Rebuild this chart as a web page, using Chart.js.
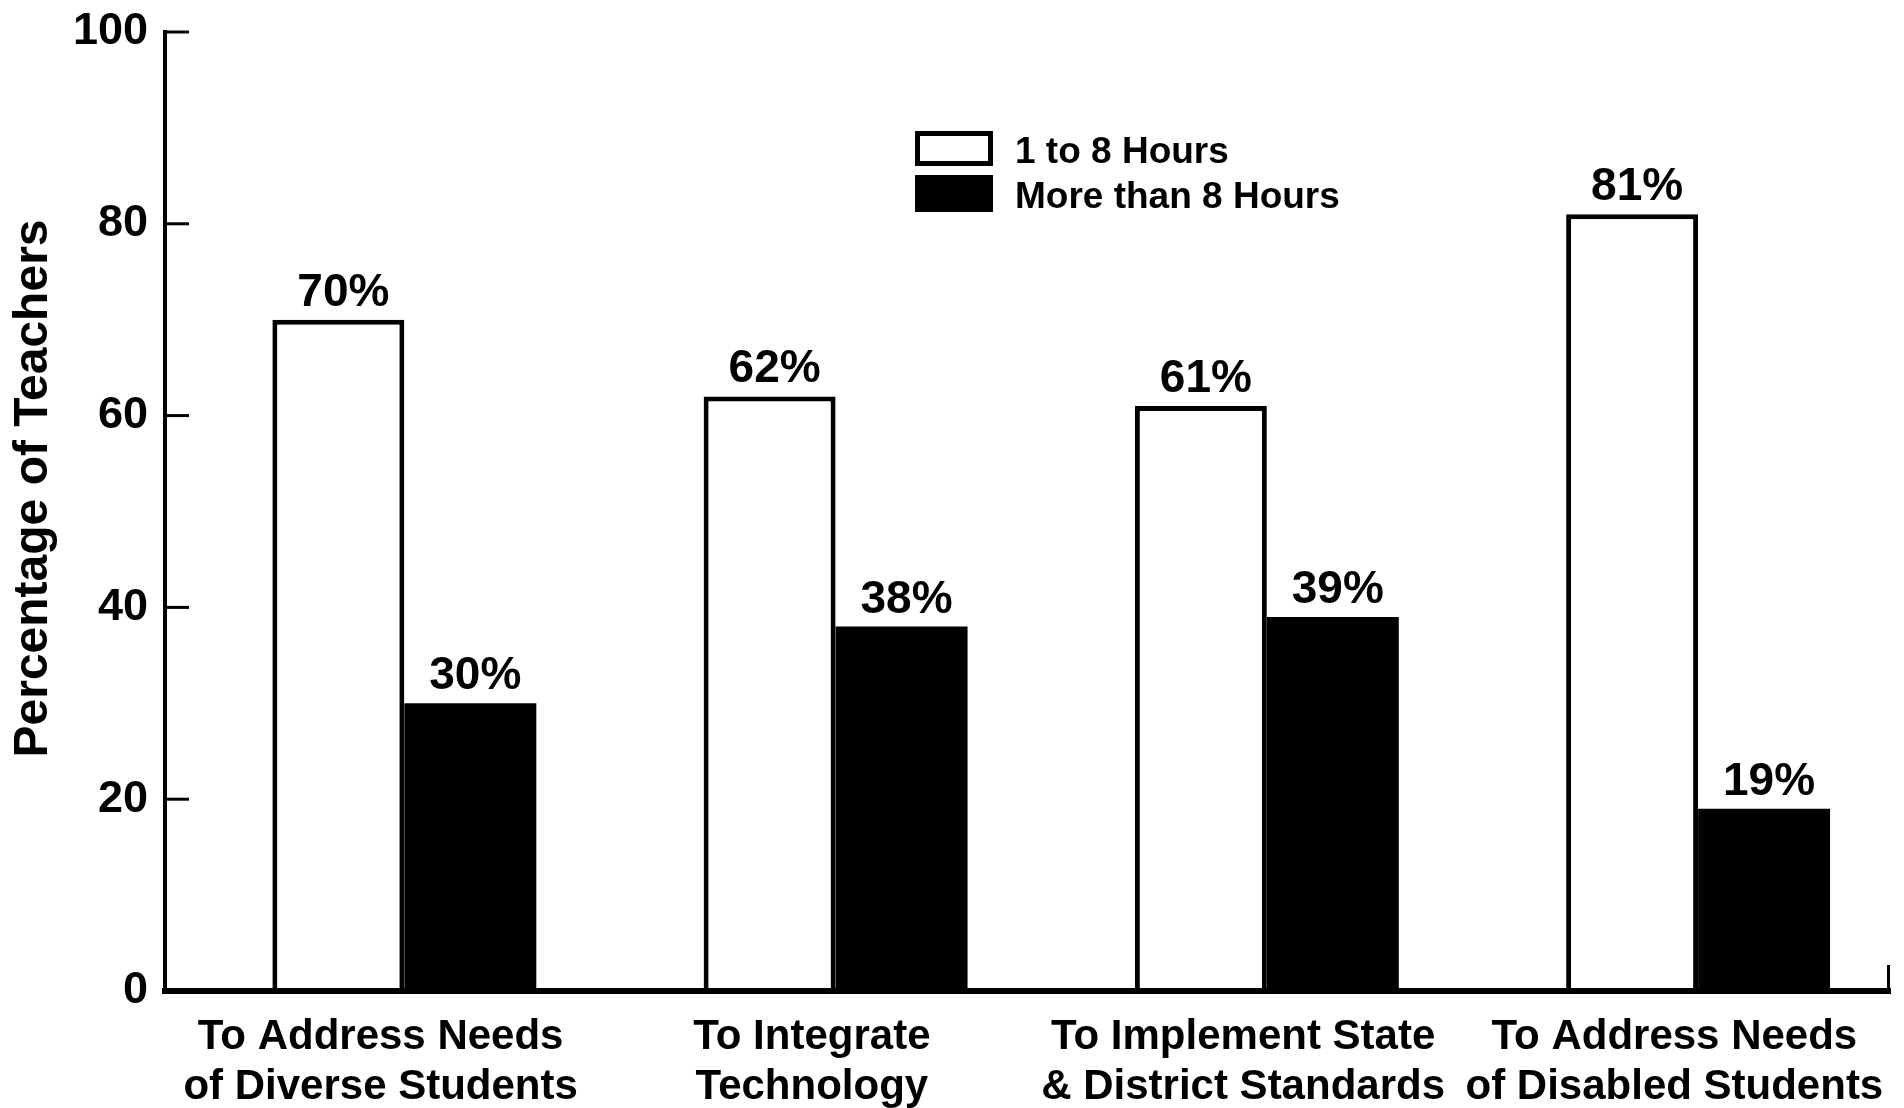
<!DOCTYPE html>
<html>
<head>
<meta charset="utf-8">
<script src="https://cdn.jsdelivr.net/npm/chart.js@4"></script>
<style>
  html, body { margin: 0; padding: 0; background: #fff; }
  #wrap { width: 1904px; height: 1108px; }
</style>
</head>
<body>
<div id="wrap"><canvas id="trainingChart"></canvas></div>
<script>
const categories = [
  ['To Address Needs', 'of Diverse Students'],
  ['To Integrate', 'Technology'],
  ['To Implement State', '& District Standards'],
  ['To Address Needs', 'of Disabled Students']
];
const seriesNames = ['1 to 8 Hours', 'More than 8 Hours'];
const oneToEight = [70, 62, 61, 81];
const moreThanEight = [30, 38, 39, 19];
const yTicks = [0, 20, 40, 60, 80, 100];
const yTitle = 'Percentage of Teachers';

const FONT = '"Liberation Sans", Arial, Helvetica, sans-serif';
// bar pairs sit slightly right of the category label centres
const groupShift = 0.055;

const toPoints = arr => arr.map((v, i) => ({ x: i, y: v }));

const decorations = {
  id: 'decorations',
  afterDraw(chart) {
    const { ctx, chartArea, scales } = chart;
    ctx.save();

    // short tick marks pointing into the plot
    ctx.strokeStyle = '#000';
    ctx.lineWidth = 3;
    yTicks.forEach(t => {
      if (t === 0) return;
      const y = scales.y.getPixelForValue(t);
      ctx.beginPath();
      ctx.moveTo(chartArea.left, y);
      ctx.lineTo(chartArea.left + 24, y);
      ctx.stroke();
    });
    // end tick on the category axis
    ctx.beginPath();
    ctx.moveTo(chartArea.right - 1.5, chartArea.bottom);
    ctx.lineTo(chartArea.right - 1.5, chartArea.bottom - 26);
    ctx.stroke();

    // axis title, set a little above the middle of the value axis
    ctx.fillStyle = '#000';
    ctx.font = 'bold 48px ' + FONT;
    ctx.textAlign = 'center';
    ctx.textBaseline = 'middle';
    ctx.save();
    ctx.translate(scales.y.left + 34, (chartArea.top + chartArea.bottom) / 2 - 23);
    ctx.rotate(-Math.PI / 2);
    ctx.fillText(yTitle, 0, 0);
    ctx.restore();

    // percentage labels over the bars
    ctx.font = 'bold 46px ' + FONT;
    ctx.textBaseline = 'alphabetic';
    chart.data.datasets.forEach((ds, di) => {
      chart.getDatasetMeta(di).data.forEach((bar, i) => {
        ctx.fillText(ds.data[i].y + '%', bar.x + 5, bar.y - 14);
      });
    });

    // legend
    const lx = chartArea.left + 750;
    const ly = chartArea.top + 99;
    ctx.lineWidth = 5;
    ctx.fillStyle = '#fff';
    ctx.fillRect(lx, ly, 78, 35);
    ctx.strokeRect(lx + 2.5, ly + 2.5, 73, 30);
    ctx.fillStyle = '#000';
    ctx.fillRect(lx, ly + 44, 78, 37);
    ctx.font = 'bold 37px ' + FONT;
    ctx.textAlign = 'left';
    ctx.textBaseline = 'middle';
    ctx.fillText(seriesNames[0], lx + 100, ly + 22);
    ctx.fillText(seriesNames[1], lx + 100, ly + 67);

    ctx.restore();
  }
};

new Chart('trainingChart', {
  type: 'bar',
  data: {
    labels: categories,
    datasets: [{
      label: seriesNames[0],
      data: toPoints(oneToEight),
      xAxisID: 'xb',
      backgroundColor: '#fff',
      borderColor: '#000',
      borderWidth: 5
    }, {
      label: seriesNames[1],
      data: toPoints(moreThanEight),
      xAxisID: 'xb',
      backgroundColor: '#000',
      borderWidth: 0
    }]
  },
  options: {
    responsive: true,
    maintainAspectRatio: false,
    animation: false,
    categoryPercentage: 0.612,
    barPercentage: 1,
    layout: { padding: { top: 32, right: 14, bottom: 0, left: 0 } },
    plugins: {
      legend: { display: false },
      tooltip: { enabled: false }
    },
    scales: {
      x: {
        type: 'category',
        offset: true,
        grid: { display: false, drawTicks: false },
        border: { display: true, color: '#000', width: 6, z: 1 },
        ticks: {
          color: '#000',
          padding: 21,
          maxRotation: 0,
          autoSkip: false,
          font: { family: FONT, size: 42, weight: 'bold', lineHeight: 1.2 }
        },
        afterFit: s => { s.height = 117; s.paddingLeft = 0; s.paddingRight = 0; }
      },
      xb: {
        type: 'linear',
        axis: 'x',
        position: 'bottom',
        display: false,
        min: -0.5 - groupShift,
        max: categories.length - 0.5 - groupShift,
        afterBuildTicks: s => { s.ticks = []; }
      },
      y: {
        min: 0,
        max: 100,
        grid: { display: false, drawTicks: false },
        border: { display: true, color: '#000', width: 4 },
        ticks: {
          stepSize: 20,
          color: '#000',
          padding: 17,
          font: { family: FONT, size: 45, weight: 'bold' }
        },
        afterFit: s => { s.width = 165; s.paddingTop = 0; s.paddingBottom = 0; }
      }
    }
  },
  plugins: [decorations]
});
</script>
</body>
</html>
